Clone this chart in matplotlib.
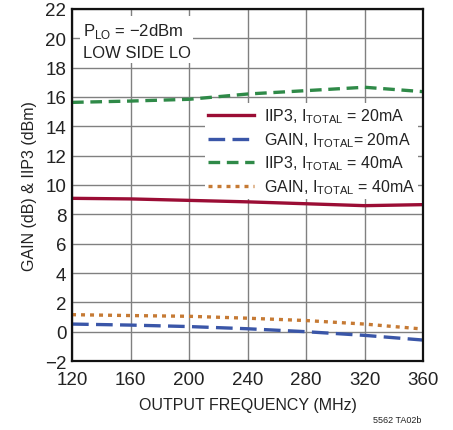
import matplotlib
matplotlib.use("Agg")
import matplotlib.pyplot as plt

plt.rcParams['font.family'] = ['Liberation Sans', 'DejaVu Sans']

freq = [120, 160, 200, 240, 280, 320, 360]
iip3_20 = [9.09, 9.05, 8.95, 8.85, 8.72, 8.59, 8.66]
gain_20 = [0.52, 0.45, 0.35, 0.2, 0.0, -0.25, -0.57]
iip3_40 = [15.63, 15.72, 15.84, 16.2, 16.43, 16.66, 16.36]
gain_40 = [1.16, 1.1, 1.05, 0.92, 0.76, 0.52, 0.18]

labels = [r'IIP3, I$_{\mathregular{TOTAL}}$ = 20mA',
          r'GAIN, I$_{\mathregular{TOTAL}}$= 20mA',
          r'IIP3, I$_{\mathregular{TOTAL}}$ = 40mA',
          r'GAIN, I$_{\mathregular{TOTAL}}$ = 40mA']

fig = plt.figure(figsize=(4.53, 4.31), dpi=100)
ax = fig.add_axes([0.159, 0.160, 0.775, 0.817])

ax.plot(freq, iip3_20, color='#9b0d35', lw=2.4, label=labels[0])
ax.plot(freq, gain_20, color='#3a56a8', lw=2.4, dashes=(5, 2.2), label=labels[1])
ax.plot(freq, iip3_40, color='#2f8a48', lw=2.4, dashes=(3.5, 2), label=labels[2])
ax.plot(freq, gain_40, color='#c67a34', lw=2.4, dashes=(1.2, 1.5), label=labels[3])

ax.set_xlim(120, 360)
ax.set_ylim(-2, 22)
ax.set_xticks(range(120, 361, 40))
ax.set_yticks(range(-2, 23, 2))
ax.set_yticklabels(['\u22122'] + [str(v) for v in range(0, 23, 2)])
ax.grid(True, color='#808080', lw=1.0)
ax.tick_params(direction='in', length=0, labelsize=13.5, colors='#222222')
ax.tick_params(axis='x', pad=7)
ax.tick_params(axis='y', pad=4)
for s in ax.spines.values():
    s.set_linewidth(1.6)
    s.set_color('#111111')

ax.set_xlabel('OUTPUT FREQUENCY (MHz)', fontsize=11.5, color='#222222', labelpad=7)
ax.set_ylabel('GAIN (dB) & IIP3 (dBm)', fontsize=11.5, color='#222222', labelpad=6)

ax.text(0.03, 0.965, 'P$_{\\mathregular{LO}}$ = \u22122dBm\nLOW SIDE LO', transform=ax.transAxes,
        ha='left', va='top', fontsize=12, color='#222222', linespacing=1.4,
        bbox=dict(facecolor='white', edgecolor='none', pad=2))

leg = ax.legend(loc='upper right', bbox_to_anchor=(1.0, 0.745), fontsize=11.5,
                frameon=True, fancybox=False, framealpha=1, edgecolor='none',
                handlelength=2.9, handletextpad=0.6, labelspacing=0.3,
                borderpad=0.2, borderaxespad=0.3)
for t in leg.get_texts():
    t.set_color('#222222')

fig.text(0.93, 0.015, '5562 TA02b', fontsize=6.5, ha='right', va='bottom', color='#222222')

fig.savefig('out.png', dpi=100)
